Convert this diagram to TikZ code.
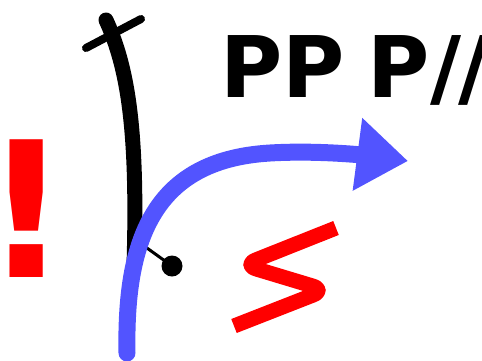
\documentclass[tikz,border=0pt]{standalone}
\usepackage{fontspec}
\setmainfont{DejaVu Sans}
\usetikzlibrary{arrows.meta}
\definecolor{flowblue}{RGB}{82,84,255}
\tikzset{
    stem stroke/.style={
        line width=15pt,
        line cap=round,
        black
    },
    bar stroke/.style={
        line width=8pt,
        line cap=round,
        black
    },
    flow stroke/.style={
        line width=17pt,
        line cap=round,
        flowblue,
        -{Triangle[length=51pt,width=70pt]}
    },
    squiggle stroke/.style={
        line width=15pt,
        line cap=butt,
        line join=round,
        rounded corners=14pt,
        red
    },
    big label/.style={
        inner sep=0pt,
        font=\fontsize{85}{100}\selectfont\bfseries
    }
}

\begin{document}
\begin{tikzpicture}[x=1pt,y=-1pt]
\useasboundingbox (0,0) rectangle (482,360);
\clip (0,0) rectangle (482,360);
% stem with crossbar
\coordinate (stemtop) at (106,20);
\coordinate (stembot) at (134,266);
\coordinate (barl) at (86,48);
\coordinate (barr) at (141,19);
\draw[stem stroke] (stemtop) .. controls (128,68) and (138,130) .. (stembot);
\draw[bar stroke] (barl) -- (barr);
% pin with dot
\coordinate (pinfoot) at (140,243);
\coordinate (pinhead) at (172,266);
\draw[line width=3pt] (pinfoot) -- (pinhead);
\fill (pinhead) circle[radius=10.5pt];
% blue arrow
\coordinate (flowstart) at (127,353);
\coordinate (flowmid) at (270,153);
\coordinate (flowend) at (408,161);
\draw[flow stroke] (flowstart) .. controls (125,245) and (150,160) .. (flowmid)
    .. controls (320,150) and (370,156) .. (flowend);
% squiggle
\draw[squiggle stroke] (336,228) -- (243,265) -- (326,290) -- (234,326);
% labels
\node[big label, anchor=base west] (title) at (220,97)
    {PP\kern-7pt\ P\kern1pt/\kern-3pt/};
\node[inner sep=0pt, anchor=base, red, font=\fontsize{189}{200}\selectfont\bfseries] (bang) at (27,277) {\kern-24pt!\kern-24pt};
\end{tikzpicture}
\end{document}
